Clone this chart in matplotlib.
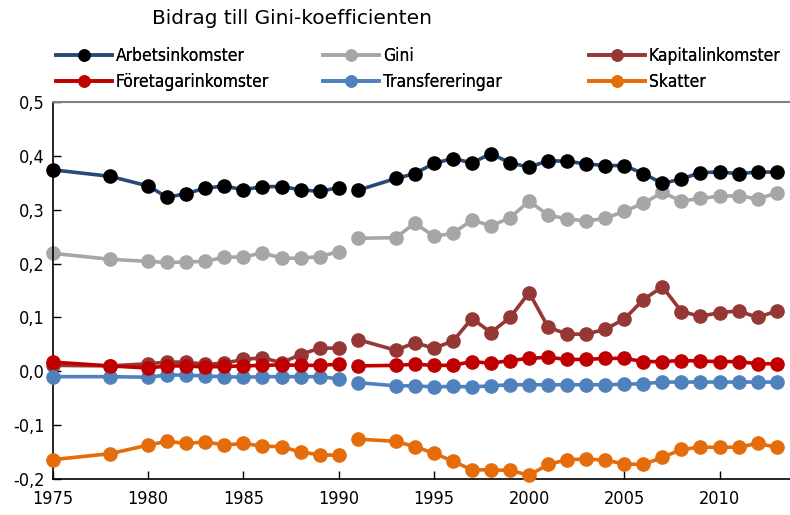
import numpy as np
import matplotlib
matplotlib.use('Agg')
import matplotlib.pyplot as plt
from matplotlib.lines import Line2D

plt.rcParams['font.family'] = ['DejaVu Sans']
plt.rcParams['font.stretch'] = 'condensed'

# data
years = [1975, 1978, 1980, 1981, 1982, 1983, 1984, 1985, 1986, 1987, 1988, 1989, 1990,
         1991, 1993, 1994, 1995, 1996, 1997, 1998, 1999, 2000, 2001, 2002, 2003, 2004,
         2005, 2006, 2007, 2008, 2009, 2010, 2011, 2012, 2013]
BREAK = 13  # series break between 1990 and 1991

arbetsinkomster = [0.374, 0.362, 0.344, 0.323, 0.330, 0.340, 0.344, 0.337, 0.343, 0.343, 0.337, 0.334, 0.341,
                   0.336, 0.358, 0.367, 0.386, 0.395, 0.387, 0.404, 0.387, 0.379, 0.391, 0.390, 0.385, 0.382,
                   0.382, 0.367, 0.349, 0.357, 0.369, 0.370, 0.367, 0.370, 0.370]
gini = [0.219, 0.208, 0.204, 0.202, 0.203, 0.204, 0.212, 0.212, 0.220, 0.210, 0.210, 0.213, 0.222,
        0.247, 0.248, 0.275, 0.251, 0.256, 0.281, 0.270, 0.285, 0.316, 0.290, 0.283, 0.279, 0.284,
        0.297, 0.312, 0.332, 0.316, 0.321, 0.325, 0.326, 0.320, 0.331]
kapitalinkomster = [0.011, 0.010, 0.014, 0.017, 0.017, 0.013, 0.015, 0.022, 0.025, 0.016, 0.031, 0.043, 0.043,
                    0.059, 0.039, 0.053, 0.043, 0.056, 0.098, 0.072, 0.100, 0.146, 0.082, 0.069, 0.069, 0.078,
                    0.097, 0.133, 0.157, 0.111, 0.102, 0.109, 0.112, 0.100, 0.112]
foretagarinkomster = [0.017, 0.010, 0.006, 0.010, 0.010, 0.008, 0.009, 0.010, 0.011, 0.012, 0.011, 0.011, 0.013,
                      0.010, 0.011, 0.013, 0.011, 0.011, 0.018, 0.015, 0.020, 0.024, 0.026, 0.022, 0.022, 0.024,
                      0.024, 0.018, 0.018, 0.020, 0.019, 0.018, 0.018, 0.014, 0.014]
transfereringar = [-0.010, -0.010, -0.011, -0.007, -0.007, -0.009, -0.010, -0.011, -0.010, -0.010, -0.010, -0.010, -0.014,
                   -0.021, -0.027, -0.027, -0.029, -0.028, -0.029, -0.027, -0.025, -0.025, -0.025, -0.025, -0.025, -0.025,
                   -0.024, -0.023, -0.020, -0.020, -0.020, -0.020, -0.020, -0.020, -0.020]
skatter = [-0.164, -0.153, -0.137, -0.130, -0.134, -0.131, -0.137, -0.134, -0.139, -0.140, -0.150, -0.155, -0.156,
           -0.126, -0.130, -0.140, -0.152, -0.167, -0.183, -0.183, -0.184, -0.193, -0.173, -0.164, -0.163, -0.165,
           -0.172, -0.173, -0.160, -0.145, -0.141, -0.141, -0.141, -0.134, -0.141]

# (label, values, line colour, marker colour, zorder)
series = [
    ('Gini', gini, '#a6a6a6', '#a6a6a6', 2),
    ('Kapitalinkomster', kapitalinkomster, '#953735', '#953735', 3),
    ('Transfereringar', transfereringar, '#4f81bd', '#4f81bd', 4),
    ('Skatter', skatter, '#e46c0a', '#e46c0a', 4),
    ('Företagarinkomster', foretagarinkomster, '#c00000', '#c00000', 5),
    ('Arbetsinkomster', arbetsinkomster, '#254a78', '#000000', 6),
]

fig = plt.figure(figsize=(7.9, 5.15), dpi=100)
ax = fig.add_axes([53 / 790, 36 / 515, 737 / 790, 377 / 515])

handles = {}
for label, vals, lc, mc, z in series:
    for sl in (slice(0, BREAK), slice(BREAK, None)):
        ax.plot(years[sl], vals[sl], color=lc, lw=2.6, marker='o', ms=9.5,
                mfc=mc, mec=mc, zorder=z, clip_on=False)
    handles[label] = Line2D([], [], color=lc, lw=2.6, marker='o', ms=8, mfc=mc, mec=mc)

ax.set_xlim(1975, 2013.7)
ax.set_ylim(-0.2, 0.5)
ax.set_xticks(range(1975, 2011, 5))
ax.set_yticks(np.arange(-0.2, 0.51, 0.1))
ax.set_yticklabels([('%.1f' % v).replace('.', ',').replace('-0,0', '0,0') for v in np.arange(-0.2, 0.51, 0.1)])
ax.tick_params(direction='in', length=6, width=1, labelsize=13, colors='black', pad=6)
ax.tick_params(axis='x', labelsize=13, pad=8)
ax.spines['right'].set_visible(False)
ax.spines['top'].set_color('#808080')
ax.spines['top'].set_linewidth(1.5)
for s in ('left', 'bottom'):
    ax.spines[s].set_linewidth(1.2)

fig.text(152 / 790, 1 - 18 / 515, 'Bidrag till Gini-koefficienten', fontsize=14.5,
         fontstretch='normal', ha='left', va='center')

cols = [(['Arbetsinkomster', 'Företagarinkomster'], 56),
        (['Gini', 'Transfereringar'], 323),
        (['Kapitalinkomster', 'Skatter'], 589)]
for labels, x0 in cols:
    leg = fig.legend([handles[l] for l in labels], labels, loc='upper left',
                     bbox_to_anchor=(x0 / 790, 1 - 47 / 515), frameon=False,
                     fontsize=12.5, handlelength=3.2, handletextpad=0.25,
                     labelspacing=0.45, borderpad=0, borderaxespad=0, numpoints=1)
    fig.add_artist(leg)

fig.savefig('out.png', dpi=100)
